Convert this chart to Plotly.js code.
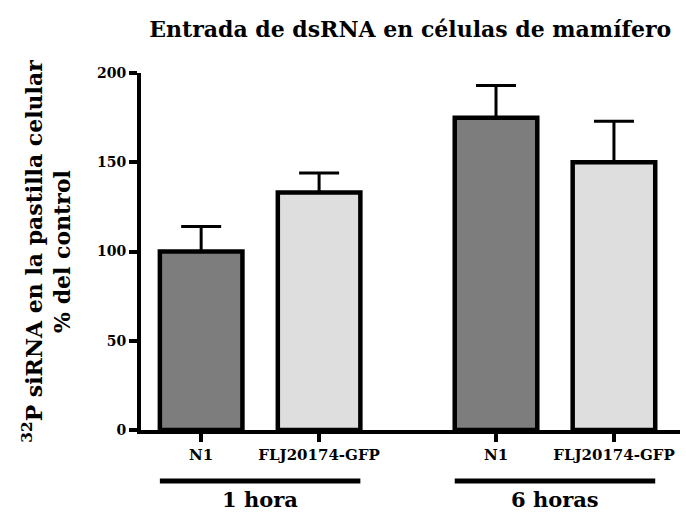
<!DOCTYPE html>
<html>
<head>
<meta charset="utf-8">
<script src="https://cdn.plot.ly/plotly-3.0.1.min.js"></script>
<style>html,body{margin:0;padding:0;background:#fff;}#chart{width:686px;height:513px;}</style>
</head>
<body>
<div id="chart"></div>
<script>
const groups = ["1 hora", "6 horas"];
const categories = ["N1", "FLJ20174-GFP", "N1", "FLJ20174-GFP"];
const groupIndex = [0, 0, 1, 1];
const slotIndex = [0, 1, 0, 1];
const values = [100, 133, 175, 150];
const errorTops = [114, 144, 193, 173];
const barColors = ["#7d7d7d", "#dedede", "#7d7d7d", "#dedede"];
const yTicks = [0, 50, 100, 150, 200];

const GROUP_GAP = 2.5;
const xPos = groupIndex.map((g, i) => g * GROUP_GAP + slotIndex[i]);
const errPlus = errorTops.map((t, i) => t - values[i]);
const errMinus = values.map(() => 0);

const font = "'DejaVu Serif', serif";
const barW = 0.7;

const trace = {
  type: "bar",
  x: xPos,
  y: values,
  width: barW,
  marker: { color: barColors, line: { color: "#000", width: 4.5 } },
  error_y: { type: "data", symmetric: false, array: errPlus, arrayminus: errMinus, color: "#000", thickness: 3, width: 20 },
  hoverinfo: "skip"
};

const shapes = [];
const annotations = [];
groups.forEach((g, gi) => {
  const xs = xPos.filter((_, i) => groupIndex[i] === gi);
  const x0 = Math.min(...xs) - barW / 2;
  const x1 = Math.max(...xs) + barW / 2;
  shapes.push({ type: "line", xref: "x", yref: "paper", x0: x0, x1: x1, y0: -0.143, y1: -0.143, line: { color: "#000", width: 5 } });
  annotations.push({ xref: "x", yref: "paper", x: (x0 + x1) / 2, y: -0.196, text: "<b>" + g + "</b>", showarrow: false, yanchor: "middle", font: { family: font, size: 21, color: "#000" } });
});

const layout = {
  width: 686, height: 513,
  margin: { l: 141, r: 6, t: 73, b: 83 },
  paper_bgcolor: "#fff", plot_bgcolor: "#fff",
  showlegend: false,
  title: { text: "<b>Entrada de dsRNA en células de mamífero</b>", x: 0.598, xanchor: "center", y: 0.942, yanchor: "middle", font: { family: font, size: 22, color: "#000" } },
  xaxis: {
    range: [-0.51, 4.06],
    tickmode: "array", tickvals: xPos, ticktext: categories.map(c => "<b>" + c + "</b>"),
    ticks: "outside", ticklen: 8, tickwidth: 4, tickcolor: "#000",
    showline: true, linecolor: "#000", linewidth: 4,
    showgrid: false, zeroline: false,
    tickfont: { family: font, size: 15, color: "#000" }
  },
  yaxis: {
    range: [0, 200],
    tickmode: "array", tickvals: yTicks, ticktext: yTicks.map(v => "<b>" + v + "</b>"),
    ticks: "outside", ticklen: 8, tickwidth: 4, tickcolor: "#000",
    showline: true, linecolor: "#000", linewidth: 4,
    showgrid: false, zeroline: false,
    tickfont: { family: font, size: 14, color: "#000" },
    title: { text: "<b><sup>32</sup>P siRNA en la pastilla celular<br>% del control</b>", standoff: 21, font: { family: font, size: 22, color: "#000" } }
  },
  shapes: shapes,
  annotations: annotations
};

Plotly.newPlot("chart", [trace], layout, { displayModeBar: false, staticPlot: true });
</script>
</body>
</html>
